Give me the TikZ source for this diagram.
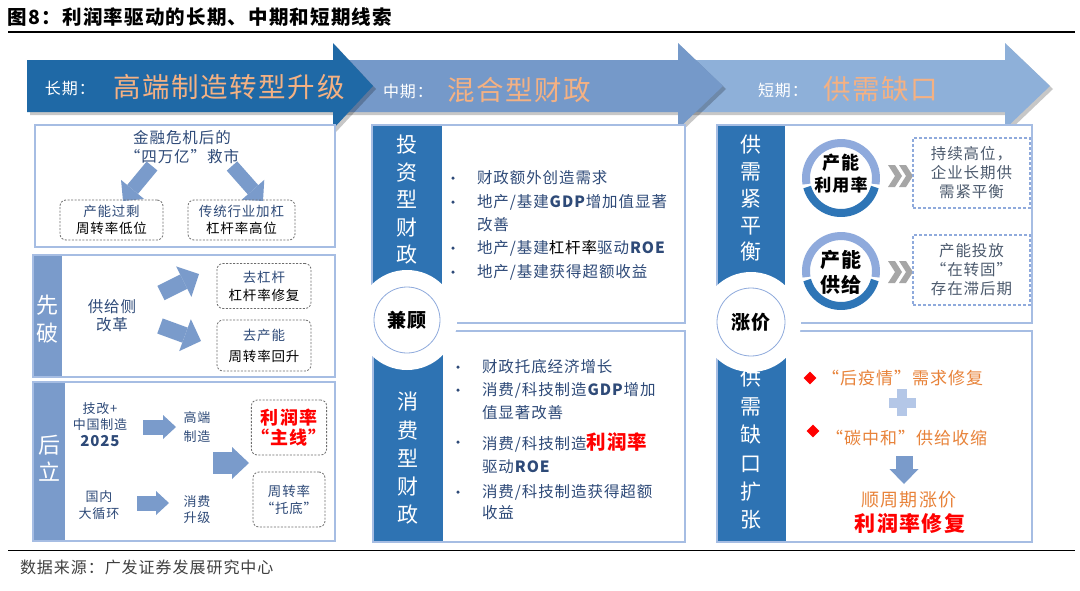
\documentclass[tikz,border=0pt]{standalone}
\usepackage{fontspec}
\setmainfont{Noto Sans CJK SC}[LetterSpace=6]
\usetikzlibrary{arrows.meta}
\newcommand{\fsz}[2]{\fontsize{#1}{#2}\selectfont}
\definecolor{arrA}{HTML}{1F69A6}
\definecolor{arrB}{HTML}{7599C9}
\definecolor{arrC}{HTML}{8EB0D9}
\definecolor{stripD}{HTML}{2E73B3}
\definecolor{stripL}{HTML}{7A9BCB}
\definecolor{boxline}{HTML}{A6BDE3}
\definecolor{txtblue}{HTML}{2E4A78}
\definecolor{orgT}{HTML}{F4B183}
\definecolor{org}{HTML}{E8833A}
\definecolor{ringL}{HTML}{8FAADC}
\definecolor{ringD}{HTML}{2E75B6}
\definecolor{chev}{HTML}{A6A6A6}
\definecolor{greytxt}{HTML}{4D5B6E}
\definecolor{plusc}{HTML}{B4C7E7}
\definecolor{foot}{HTML}{404040}
\tikzset{
  stxt/.style={text=white, align=center},
  dbox/.style={draw=gray!85!black, dash pattern=on 2pt off 1.5pt, rounded corners=6pt, line width=0.8pt, align=center},
  rbox/.style={draw=ringL, dash pattern=on 3pt off 2pt, line width=1.2pt, align=center, text=greytxt},
  barrow/.style n args={4}{draw=#1, line width=#2, -{Triangle[length=#4, width=#3, line width=0pt]}},
  bord/.style={draw=boxline, line width=1.8pt},
  bul/.style={circle, fill=txtblue, minimum size=3.5pt},
  btxt/.style={anchor=west, text=txtblue, font=\fsz{15.5}{16}},
  ctxt/.style={font=\bfseries\fsz{19}{19}},
}
\begin{document}
\begin{tikzpicture}[x=1pt,y=-1pt, every node/.style={inner sep=0pt,outer sep=0pt}]
\useasboundingbox (0,0) rectangle (1080,590);
\fill[white] (0,0) rectangle (1080,590);

% title
\node[anchor=west,font=\bfseries\fsz{19.5}{20}] (title) at (8,17) {图8：利润率驱动的长期、中期和短期线索};
\draw[line width=1.3pt] (8,32) -- (1075,32);

% big arrows
\fill[black,opacity=0.22,shift={(3,3)}] (690,60) -- (1005,60) -- (1005,43) -- (1050,86) -- (1005,129) -- (1005,112) -- (690,112) -- cycle;
\fill[arrC] (690,60) -- (1005,60) -- (1005,43) -- (1050,86) -- (1005,129) -- (1005,112) -- (690,112) -- cycle;
\fill[black,opacity=0.22,shift={(3,3)}] (330,60) -- (678,60) -- (678,43) -- (723,86) -- (678,129) -- (678,112) -- (330,112) -- cycle;
\fill[arrB] (330,60) -- (678,60) -- (678,43) -- (723,86) -- (678,129) -- (678,112) -- (330,112) -- cycle;
\fill[black,opacity=0.22,shift={(3,3)}] (27,60) -- (333,60) -- (333,43) -- (373,86) -- (333,129) -- (333,112) -- (27,112) -- cycle;
\fill[arrA] (27,60) -- (333,60) -- (333,43) -- (373,86) -- (333,129) -- (333,112) -- (27,112) -- cycle;

\node[anchor=west,text=white,font=\fsz{16}{16}] (lt1) at (45,88) {长期：};
\node[anchor=west,text=orgT,font=\fsz{27.5}{28}] (lt2) at (113,87) {高端制造转型升级};
\node[anchor=west,text=white,font=\fsz{16}{16}] (mt1) at (383,91) {中期：};
\node[anchor=west,text=orgT,font=\fsz{27.5}{28}] (mt2) at (447,90) {混合型财政};
\node[anchor=west,text=white,font=\fsz{16}{16}] (st1) at (758,90) {短期：};
\node[anchor=west,text=orgT,font=\fsz{27.5}{28}] (st2) at (823,89) {供需缺口};

% ---------- left column ----------
% box 1
\fill[white] (35,125) rectangle (335,247);
\draw[bord] (35,125) rectangle (335,247);
\node[align=center,text=txtblue,font=\fsz{15.5}{19}] (b1t) at (182,147.5) {金融危机后的\\“四万亿”救市};
\coordinate (b1l0) at (152,166); \coordinate (b1l1) at (123,201);
\coordinate (b1r0) at (232,166); \coordinate (b1r1) at (263,201);
\draw[barrow={stripL}{14pt}{30pt}{15pt}] (b1l0) -- (b1l1);
\draw[barrow={stripL}{14pt}{30pt}{15pt}] (b1r0) -- (b1r1);
\node[dbox,minimum width=103pt,minimum height=40pt,font=\fsz{13.5}{17}] (d1) at (111.5,220) {\textcolor{txtblue}{产能过剩}\\周转率低位};
\node[dbox,minimum width=107pt,minimum height=40pt,font=\fsz{13.5}{17}] (d2) at (241.5,220) {\textcolor{txtblue}{传统行业加杠}\\杠杆率高位};

% box 2
\fill[white] (33,255) rectangle (335,377);
\fill[stripL] (33,255) rectangle (62,377);
\draw[bord] (33,255) rectangle (335,377);
\node[stxt,font=\fsz{22}{28}] (xp) at (47,319) {先\\破};
\node[align=center,text=txtblue,font=\fsz{15.5}{18}] (gj) at (112,316) {供给侧\\改革};
\coordinate (b2a0) at (161,293); \coordinate (b2a1) at (199,274);
\coordinate (b2b0) at (160,326); \coordinate (b2b1) at (201,341);
\draw[barrow={stripL}{16pt}{34pt}{17pt}] (b2a0) -- (b2a1);
\draw[barrow={stripL}{16pt}{34pt}{17pt}] (b2b0) -- (b2b1);
\node[dbox,minimum width=94pt,minimum height=45pt,font=\fsz{13.5}{18}] (d3) at (264,286) {\textcolor{txtblue}{去杠杆}\\杠杆率修复};
\node[dbox,minimum width=94pt,minimum height=51pt,font=\fsz{13.5}{21}] (d4) at (264,345.5) {\textcolor{txtblue}{去产能}\\周转率回升};

% box 3
\fill[white] (33,382) rectangle (335,541);
\fill[stripL] (33,382) rectangle (65,541);
\draw[bord] (33,382) rectangle (335,541);
\node[stxt,font=\fsz{22}{27}] (hl) at (49,458.5) {后\\立};
\node[align=center,text=txtblue,font=\fsz{13}{16.5}] (jg) at (100,424.5) {技改+\\中国制造\\{\bfseries\fsz{15}{16.5}2025}};
\node[align=center,text=txtblue,font=\fsz{13}{19}] (gd) at (197,427) {高端\\制造};
\node[align=center,text=txtblue,font=\fsz{13}{17}] (gn) at (99,505) {国内\\大循环};
\node[align=center,text=txtblue,font=\fsz{13}{16}] (xf) at (197,510) {消费\\升级};
\coordinate (b3a0) at (143,427); \coordinate (b3a1) at (176,427);
\coordinate (b3b0) at (137,503); \coordinate (b3b1) at (169,503);
\coordinate (b3c0) at (213,463); \coordinate (b3c1) at (249,463);
\draw[barrow={stripL}{15pt}{24pt}{13pt}] (b3a0) -- (b3a1);
\draw[barrow={stripL}{15pt}{24pt}{13pt}] (b3b0) -- (b3b1);
\draw[barrow={stripL}{22pt}{32pt}{17pt}] (b3c0) -- (b3c1);
\node[dbox,minimum width=72pt,minimum height=55pt,text=red,font=\bfseries\fsz{18}{20}] (d5) at (289,427.5) {利润率\\“主线”};
\node[dbox,minimum width=72pt,minimum height=55pt,text=txtblue,font=\fsz{13.5}{17}] (d6) at (289,499.5) {周转率\\“托底”};

% ---------- middle column ----------
\fill[white] (372,125) rectangle (685,323);
\fill[stripD] (372,125) rectangle (442,323);
\draw[bord] (372,125) rectangle (685,323);
\fill[white] (373,331) rectangle (685,542);
\fill[stripD] (373,331) rectangle (443,542);
\draw[bord] (373,331) rectangle (685,542);
\fill[white] (407,320) circle[radius=50];
\node[circle,draw=ringL,line width=0.8pt,fill=white,minimum size=66pt,ctxt] (jgc) at (407,320) {兼顾};
\node[stxt,font=\fsz{21}{27.5}] (s1) at (407,200) {投\\资\\型\\财\\政};
\node[stxt,font=\fsz{21}{28.25}] (s2) at (408,458.5) {消\\费\\型\\财\\政};

\node[bul] (ub1) at (453,178) {};
\node[btxt] (ut1) at (477,178) {财政额外创造需求};
\node[bul] (ub2) at (453,202) {};
\node[btxt] (ut2) at (477,202) {地产/基建\textbf{GDP}增加值显著};
\node[btxt] (ut2b) at (477,225) {改善};
\node[bul] (ub3) at (453,248) {};
\node[btxt] (ut3) at (477,248) {地产/基建\textcolor{black}{杠杆率}驱动\textbf{ROE}};
\node[bul] (ub4) at (453,272) {};
\node[btxt] (ut4) at (477,272) {地产/基建获得超额收益};

\node[bul] (lb1) at (458,367) {};
\node[btxt] (lt1b) at (482,367) {财政托底经济增长};
\node[bul] (lb2) at (458,390) {};
\node[btxt] (lt2b) at (482,390) {消费/科技制造\textbf{GDP}增加};
\node[btxt] (lt2c) at (482,413) {值显著改善};
\node[bul] (lb3) at (458,442) {};
\node[btxt] (lt3b) at (482,442) {消费/科技制造{\color{red}\bfseries\fsz{19.5}{20}利润率}};
\node[btxt] (lt3c) at (482,467) {驱动\textbf{ROE}};
\node[bul] (lb4) at (458,492) {};
\node[btxt] (lt4b) at (482,492) {消费/科技制造获得超额};
\node[btxt] (lt4c) at (482,513) {收益};

% ---------- right column ----------
\fill[white] (717,125) rectangle (1032,323);
\fill[stripD] (717,125) rectangle (785,323);
\draw[bord] (717,125) rectangle (1032,323);
\fill[white] (717,331) rectangle (1032,542);
\fill[stripD] (717,331) rectangle (786,542);
\draw[bord] (717,331) rectangle (1032,542);
\fill[white] (751,322) circle[radius=50];
\node[circle,draw=ringL,line width=0.8pt,fill=white,minimum size=68pt,ctxt] (zjc) at (751,322) {涨价};
\node[stxt,font=\fsz{21}{26.75}] (s3) at (751,198.5) {供\\需\\紧\\平\\衡};
\node[stxt,font=\fsz{21}{28.4}] (s4) at (751,449) {供\\需\\缺\\口\\扩\\张};

% rings
\node[circle,minimum size=62pt] (r1) at (841,178) {};
\draw[ringL,line width=8pt] (r1.center) ++(170:35) arc[start angle=170,end angle=370,radius=35];
\draw[ringD,line width=8pt] (r1.center) ++(15:35) arc[start angle=15,end angle=165,radius=35];
\node[font=\bfseries\fsz{18}{18}] (r1a) at (841,163) {产能};
\node[font=\bfseries\fsz{17}{17}] (r1b) at (841,185) {利用率};
\node[circle,minimum size=62pt] (r2) at (841,271) {};
\draw[ringL,line width=8pt] (r2.center) ++(170:35) arc[start angle=170,end angle=370,radius=35];
\draw[ringD,line width=8pt] (r2.center) ++(15:35) arc[start angle=15,end angle=165,radius=35];
\node[font=\bfseries\fsz{20}{20}] (r2a) at (841,260) {产能};
\node[font=\bfseries\fsz{20}{20}] (r2b) at (841,285) {供给};

% chevrons
\foreach \cy in {176,272}{
  \foreach \cx in {888,899}{
    \fill[chev] (\cx,\cy-11) -- (\cx+7,\cy-11) -- (\cx+14,\cy) -- (\cx+7,\cy+11) -- (\cx,\cy+11) -- (\cx+7,\cy) -- cycle;
  }
}
\node[rbox,minimum width=117pt,minimum height=70pt,font=\fsz{15.5}{19}] (rb1) at (971.5,173) {持续高位，\\企业长期供\\需紧平衡};
\node[rbox,minimum width=117pt,minimum height=70pt,font=\fsz{15.5}{19}] (rb2) at (971.5,270) {产能投放\\“在转固”\\存在滞后期};

% lower right
\node[fill=red,minimum size=9pt,rotate=45] (dm1) at (810,378) {};
\node[anchor=west,text=org,font=\fsz{17}{17}] (o1) at (822,378) {“后疫情”需求修复};
\fill[plusc] (888.5,397.5) rectangle (915.5,407.5);
\fill[plusc] (897,389) rectangle (907,416);
\node[fill=red,minimum size=9pt,rotate=45] (dm2) at (813,431) {};
\node[anchor=west,text=org,font=\fsz{17}{17}] (o2) at (826,438) {“碳中和”供给收缩};
\coordinate (da0) at (904,456); \coordinate (da1) at (904,484);
\draw[barrow={stripL}{17pt}{29pt}{15pt}] (da0) -- (da1);
\node[text=org,font=\fsz{18}{18}] (o3) at (909,500) {顺周期涨价};
\node[text=red,font=\bfseries\fsz{21}{21}] (o4) at (910,523) {利润率修复};

% footer
\draw[line width=0.8pt] (8,550) -- (1075,550);
\node[anchor=west,text=foot,font=\fsz{16}{16}] (foot) at (20,567) {数据来源：广发证券发展研究中心};
\end{tikzpicture}
\end{document}
